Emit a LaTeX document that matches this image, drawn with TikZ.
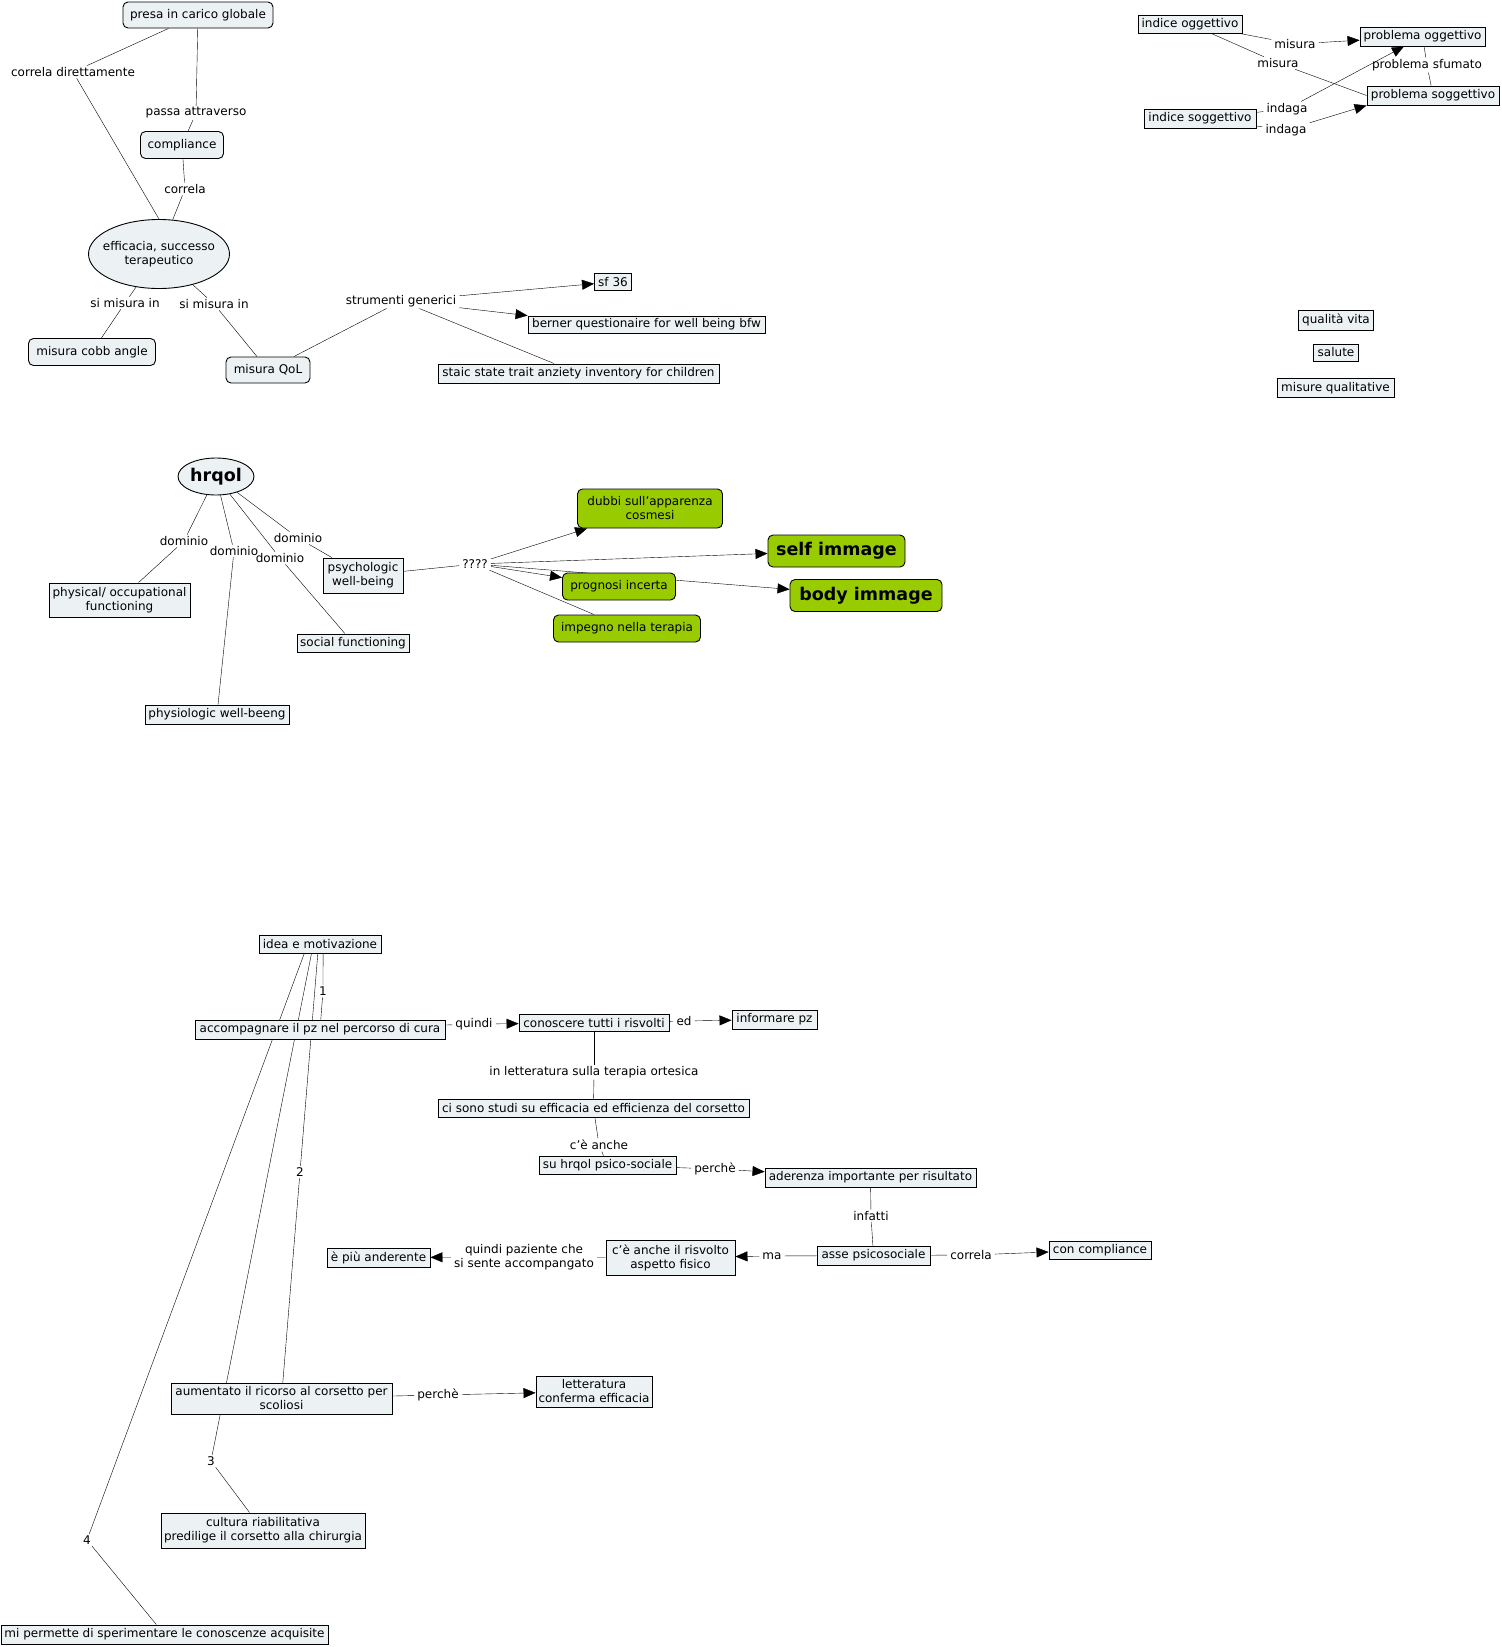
\documentclass[tikz,border=0pt]{standalone}
\usepackage{fontspec}
\setmainfont{DejaVu Sans}
\usetikzlibrary{shapes.geometric,arrows.meta}
\pgfdeclarelayer{bg}
\pgfsetlayers{bg,main}
\definecolor{cfill}{RGB}{236,242,244}
\definecolor{cgreen}{RGB}{153,204,0}
\newcommand\fs{\fontsize{12}{14}\selectfont}
\newcommand\fb{\fontsize{17.5}{20}\selectfont\bfseries}
\newcommand\cmlink[3]{\draw (#1) -- (#2); \draw (#2) -- (#3);}
\newcommand\cmarrow[3]{\draw (#1) -- (#2); \draw[arr] (#2) -- (#3);}
\begin{document}
\begin{tikzpicture}[x=1pt, y=-1pt, line width=1pt,
  every node/.style={font=\fs},
  sz/.style 2 args={minimum width=#1pt, minimum height=#2pt},
  sbox/.style={draw, fill=cfill, line width=0.9pt, align=center, inner xsep=1pt, inner ysep=1pt},
  rbox/.style={sbox, rounded corners=5pt},
  gbox/.style={draw, fill=cgreen, line width=0.9pt, rounded corners=5pt, align=center, inner xsep=1pt, inner ysep=1pt},
  ellbox/.style={draw, fill=cfill, line width=0.9pt, ellipse, align=center, inner sep=0pt},
  lab/.style={align=center, inner xsep=3pt, inner ysep=1.5pt},
  arr/.style={-{Triangle[length=12pt,width=10pt]}}
]
\begin{pgfonlayer}{bg}
\fill[white] (0,0) rectangle (1502,1647);
\end{pgfonlayer}
\useasboundingbox (0,0) rectangle (1502,1647);

% ---------- top left ----------
\node[rbox, sz={150}{26}] (presa) at (198,15) {presa in carico globale};
\node[rbox, sz={83}{27}] (compl) at (182,145) {compliance};
\node[ellbox, sz={141}{69}, inner xsep=-12pt] (effic) at (159,254) {efficacia, successo\\terapeutico};
\node[rbox, sz={127}{27}] (cobb) at (92,352) {misura cobb angle};
\node[rbox, sz={84}{26}] (qol) at (268,370) {misura QoL};
\node[sbox, sz={37}{17}] (sf) at (613,282) {sf 36};
\node[sbox, sz={237}{17}] (berner) at (646.5,324.5) {berner questionaire for well being bfw};
\node[sbox, sz={281}{19}] (staic) at (578.5,373.5) {staic state trait anziety inventory for children};
\node[lab] (l1) at (73,72) {correla direttamente};
\node[lab] (l2) at (196,113) {passa attraverso};
\node[lab] (l3) at (185,189) {correla};
\node[lab] (l4) at (125,303) {si misura in};
\node[lab] (l5) at (214,304) {si misura in};
\node[lab] (l6) at (401,301) {strumenti generici};

% ---------- top right ----------
\node[sbox, sz={104}{18}] (iogg) at (1190,24) {indice oggettivo};
\node[sbox, sz={125}{19}] (pogg) at (1422.5,36.5) {problema oggettivo};
\node[sbox, sz={132}{19}] (psogg) at (1433,95.5) {problema soggettivo};
\node[sbox, sz={112}{19}] (isogg) at (1200,118.5) {indice soggettivo};
\node[lab] (m1) at (1295,44) {misura};
\node[lab] (m2) at (1278,63) {misura};
\node[lab] (psf) at (1427,65) {problema sfumato};
\node[lab] (ind1) at (1287,109) {indaga};
\node[lab] (ind2) at (1286,130) {indaga};

\node[sbox, sz={75}{20}] (qv) at (1336,320) {qualità vita};
\node[sbox, sz={45}{17}] (sal) at (1336,352.5) {salute};
\node[sbox, sz={117}{19}] (mq) at (1335.5,388) {misure qualitative};

% ---------- hrqol ----------
\node[ellbox, sz={76}{37}, font=\fb] (hrqol) at (216,476.5) {hrqol};
\node[sbox, sz={141}{34}] (phys) at (119.5,600) {physical/ occupational\\functioning};
\node[sbox, sz={144}{19}] (physio) at (217,714.5) {physiologic well-beeng};
\node[sbox, sz={112}{18}] (soc) at (353,643) {social functioning};
\node[sbox, sz={80}{35}] (psy) at (363,575.5) {psychologic\\well-being};
\node[lab] (d1) at (184,541) {dominio};
\node[lab] (d2) at (234,551) {dominio};
\node[lab] (d3) at (280,558) {dominio};
\node[lab] (d4) at (298,538) {dominio};
\node[lab] (qq) at (475,564) {????};
\node[gbox, sz={145}{39}] (dubbi) at (650,508.5) {dubbi sull'apparenza\\cosmesi};
\node[gbox, sz={137}{32}, font=\fb] (self) at (836.5,551) {self immage};
\node[gbox, sz={152}{32}, font=\fb] (body) at (866,595.5) {body immage};
\node[gbox, sz={113}{27}] (progn) at (619,586.5) {prognosi incerta};
\node[gbox, sz={147}{27}] (impegno) at (627,628.5) {impegno nella terapia};

% ---------- bottom ----------
\node[sbox, sz={122}{18}] (idea) at (320,944) {idea e motivazione};
\node[sbox, sz={250}{19}] (acc) at (320,1029.5) {accompagnare il pz nel percorso di cura};
\node[sbox, sz={150}{17}] (con) at (594,1023) {conoscere tutti i risvolti};
\node[sbox, sz={85}{19}] (inf) at (774.5,1019.5) {informare pz};
\node[sbox, sz={311}{18}] (studi) at (593.5,1108) {ci sono studi su efficacia ed efficienza del corsetto};
\node[sbox, sz={137}{18}] (suhr) at (607.5,1165) {su hrqol psico-sociale};
\node[sbox, sz={211}{19}] (ader) at (870.5,1177.5) {aderenza importante per risultato};
\node[sbox, sz={113}{19}] (asse) at (873.5,1255.5) {asse psicosociale};
\node[sbox, sz={102}{18}] (concomp) at (1100,1250) {con compliance};
\node[sbox, sz={129}{35}] (risv) at (670.5,1257.5) {c'è anche il risvolto\\aspetto fisico};
\node[sbox, sz={103}{19}] (ander) at (378.5,1257.5) {è più anderente};
\node[sbox, sz={221}{31}] (aum) at (281.5,1398.5) {aumentato il ricorso al corsetto per\\scoliosi};
\node[sbox, sz={116}{31}] (lett) at (594,1391.5) {letteratura\\conferma efficacia};
\node[sbox, sz={204}{35}] (cult) at (263,1530.5) {cultura riabilitativa\\predilige il corsetto alla chirurgia};
\node[sbox, sz={327}{19}] (mip) at (164.5,1634.5) {mi permette di sperimentare le conoscenze acquisite};
\node[lab] (quindi) at (474,1024) {quindi};
\node[lab] (ed) at (684,1021) {ed};
\node[lab] (inlet) at (594,1072) {in letteratura sulla terapia ortesica};
\node[lab] (cean) at (599,1145) {c'è anche};
\node[lab] (perche1) at (715,1169) {perchè};
\node[lab] (infatti) at (871,1216) {infatti};
\node[lab] (correla2) at (971,1255) {correla};
\node[lab] (ma) at (772,1256) {ma};
\node[lab] (quindip) at (524,1257) {quindi paziente che\\si sente accompangato};
\node[lab] (perche2) at (438,1395) {perchè};
\node[lab] (n1) at (323,991) {1};
\node[lab] (n2) at (300,1172) {2};
\node[lab] (n3) at (211,1461) {3};
\node[lab] (n4) at (87,1540) {4};

\begin{pgfonlayer}{bg}
\draw (presa) -- (l1); \draw (l1) -- (effic.north);
\cmlink{presa}{l2}{compl}
\cmlink{compl}{l3}{effic}
\cmlink{effic}{l4}{cobb}
\cmlink{effic}{l5}{qol}
\draw (qol) -- (l6);
\draw[arr] (l6) -- (sf);
\draw[arr] (l6) -- (berner.north west);
\draw (l6) -- (staic);

\cmarrow{iogg}{m1}{pogg}
\cmlink{iogg}{m2}{psogg.west}
\cmlink{pogg}{psf}{psogg}
\cmarrow{isogg}{ind1}{pogg}
\cmarrow{isogg}{ind2}{psogg.south west}

\cmlink{hrqol}{d1}{phys}
\cmlink{hrqol}{d2}{physio}
\cmlink{hrqol}{d3}{soc}
\cmlink{hrqol}{d4}{psy}
\draw (psy) -- (qq);
\draw[arr] (qq) -- (dubbi);
\draw[arr] (qq) -- (self);
\draw[arr] (qq) -- (progn);
\draw[arr] (qq) -- (body);
\draw (qq) -- (impegno);

\draw (idea.288) -- (n1); \draw (n1) -- (acc);
\draw (idea.257) -- (n2); \draw (n2) -- (aum);
\draw (idea.228) -- (n3); \draw (n3) -- (cult);
\draw (idea.211) -- (n4); \draw (n4) -- (mip);
\cmarrow{acc}{quindi}{con}
\cmarrow{con}{ed}{inf}
\cmlink{con}{inlet}{studi}
\cmlink{studi}{cean}{suhr}
\cmarrow{suhr}{perche1}{ader}
\cmlink{ader}{infatti}{asse}
\cmarrow{asse}{correla2}{concomp}
\cmarrow{asse}{ma}{risv}
\cmarrow{risv}{quindip}{ander}
\cmarrow{aum}{perche2}{lett}
\end{pgfonlayer}
\end{tikzpicture}
\end{document}
